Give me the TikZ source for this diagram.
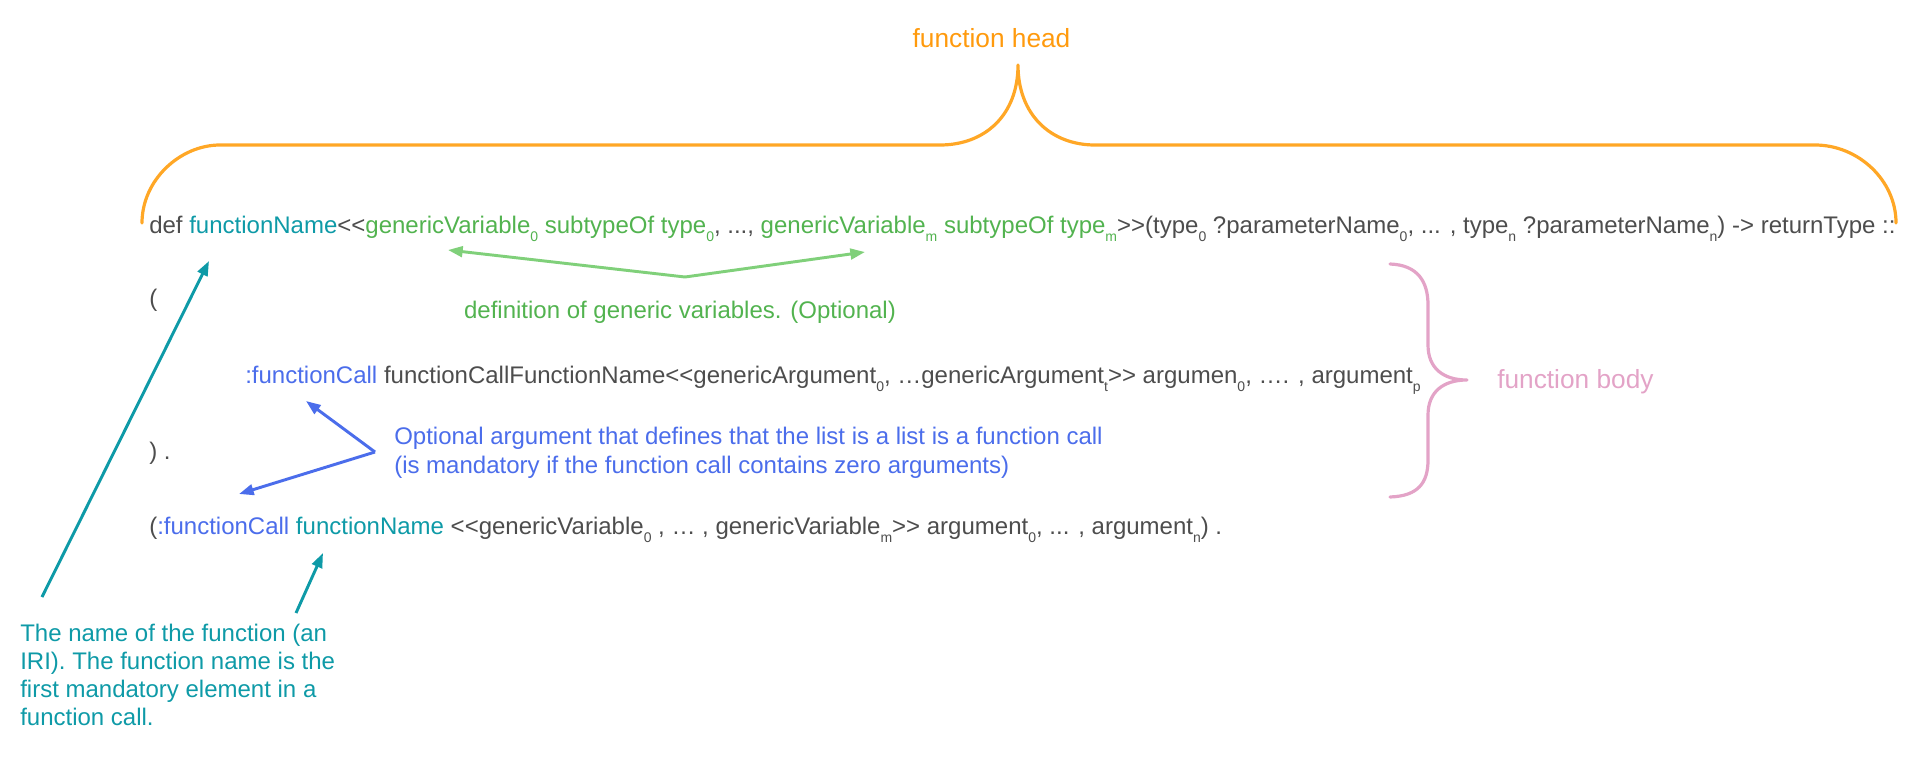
\documentclass[tikz,border=0pt]{standalone}
\usepackage{fontspec}
\setmainfont{Liberation Sans}
\usetikzlibrary{arrows.meta}
\definecolor{cgray}{HTML}{4D4D4D}
\definecolor{cteal}{HTML}{0E9AA7}
\definecolor{cgreen}{HTML}{52B34F}
\definecolor{cgreenarr}{HTML}{80D07A}
\definecolor{cblue}{HTML}{4B6DEB}
\definecolor{corange}{HTML}{FFA726}
\definecolor{corangetxt}{HTML}{FF9A0D}
\definecolor{cpink}{HTML}{E3A3C7}
\newcommand\sbs[1]{\raisebox{-6pt}{\fontsize{10.5pt}{11pt}\selectfont #1}}
\newcommand\ltlt{\mbox{<}\mbox{<}}
\newcommand\gtgt{\mbox{>}\mbox{>}}
\begin{document}
\begin{tikzpicture}[x=0.75pt,y=-0.75pt,
  code/.style={anchor=base west,inner sep=0pt,text=cgray,font=\fontsize{18pt}{22pt}\selectfont},
  note/.style={anchor=base west,inner sep=0pt,font=\fontsize{18pt}{22pt}\selectfont},
  big/.style={inner sep=0pt,font=\fontsize{19.7pt}{24pt}\selectfont},
  arr/.style={line width=2.2pt,-{Triangle[length=11pt,width=8pt]}},
  bracepath/.style={line width=2.4pt,line cap=round,line join=round}]
\useasboundingbox (0,0) rectangle (1919,757);
% orange brace
\draw[bracepath,corange] (142,223) .. controls (142,180) and (180,145) .. (220,145)
  -- (940,145) .. controls (985,145) and (1018,115) .. (1018,65)
  .. controls (1018,115) and (1051,145) .. (1095,145)
  -- (1815,145) .. controls (1858,145) and (1896,180) .. (1896,223);
\node[big,anchor=base,text=corangetxt] (head) at (991.5,47) {function head};
% code lines
\node[code] (l1) at (149,233) {def {\color{cteal}functionName}\ltlt{\color{cgreen}genericVariable\sbs{0} subtypeOf type\sbs{0}}, ..., {\color{cgreen}genericVariable\sbs{m} subtypeOf type\sbs{m}}\gtgt(type\sbs{0} ?parameterName\sbs{0}, ... , type\sbs{n} ?parameterName\sbs{n}) -> returnType ::};
\node[code] (l2) at (149,306) {(};
\node[code] (l3) at (245,383) {{\color{cblue}:functionCall} functionCallFunctionName\ltlt genericArgument\sbs{0}, …genericArgument\sbs{t}\gtgt{} argumen\sbs{0}, …. , argument\sbs{p}};
\node[code] (l4) at (149,459) {) .};
\node[code] (l5) at (149,534) {({\color{cblue}:functionCall} {\color{cteal}functionName} \ltlt genericVariable\sbs{0} , … , genericVariable\sbs{m}\gtgt{} argument\sbs{0}, ... , argument\sbs{n}) .};
% pink brace
\draw[bracepath,cpink] (1390,264) .. controls (1418,265) and (1428,282) .. (1428,305)
  -- (1428,345) .. controls (1428,368) and (1443,380) .. (1467,380)
  .. controls (1443,380) and (1428,392) .. (1428,415)
  -- (1428,460) .. controls (1428,483) and (1418,496) .. (1390,497);
\node[big,anchor=base west,text=cpink] (body) at (1497,388) {function body};
% green annotation
\node[note,anchor=base,text=cgreen] (gnote) at (680,318) {definition of generic variables. (Optional)};
\coordinate (gsrc) at (685,277);
\coordinate (gtipL) at (448,250);
\coordinate (gtipR) at (865,252);
\draw[arr,cgreenarr] (gsrc) -- (gtipL);
\draw[arr,cgreenarr] (gsrc) -- (gtipR);
% blue annotation
\node[note,text=cblue] (bn1) at (394,444) {Optional argument that defines that the list is a list is a function call};
\node[note,text=cblue] (bn2) at (394,473) {(is mandatory if the function call contains zero arguments)};
\coordinate (bsrc) at (375,452);
\coordinate (btip1) at (306,401);
\coordinate (btip2) at (239,494);
\draw[arr,cblue] (bsrc) -- (btip1);
\draw[arr,cblue] (bsrc) -- (btip2);
% teal annotation
\node[note,text=cteal] (tn1) at (20,641) {The name of the function (an};
\node[note,text=cteal] (tn2) at (20,669) {IRI). The function name is the};
\node[note,text=cteal] (tn3) at (20,697) {first mandatory element in a};
\node[note,text=cteal] (tn4) at (20,725) {function call.};
\coordinate (tsrc1) at (42,597);
\coordinate (ttip1) at (209,261);
\coordinate (tsrc2) at (296,613);
\coordinate (ttip2) at (323,553);
\draw[arr,cteal] (tsrc1) -- (ttip1);
\draw[arr,cteal] (tsrc2) -- (ttip2);
\end{tikzpicture}
\end{document}
